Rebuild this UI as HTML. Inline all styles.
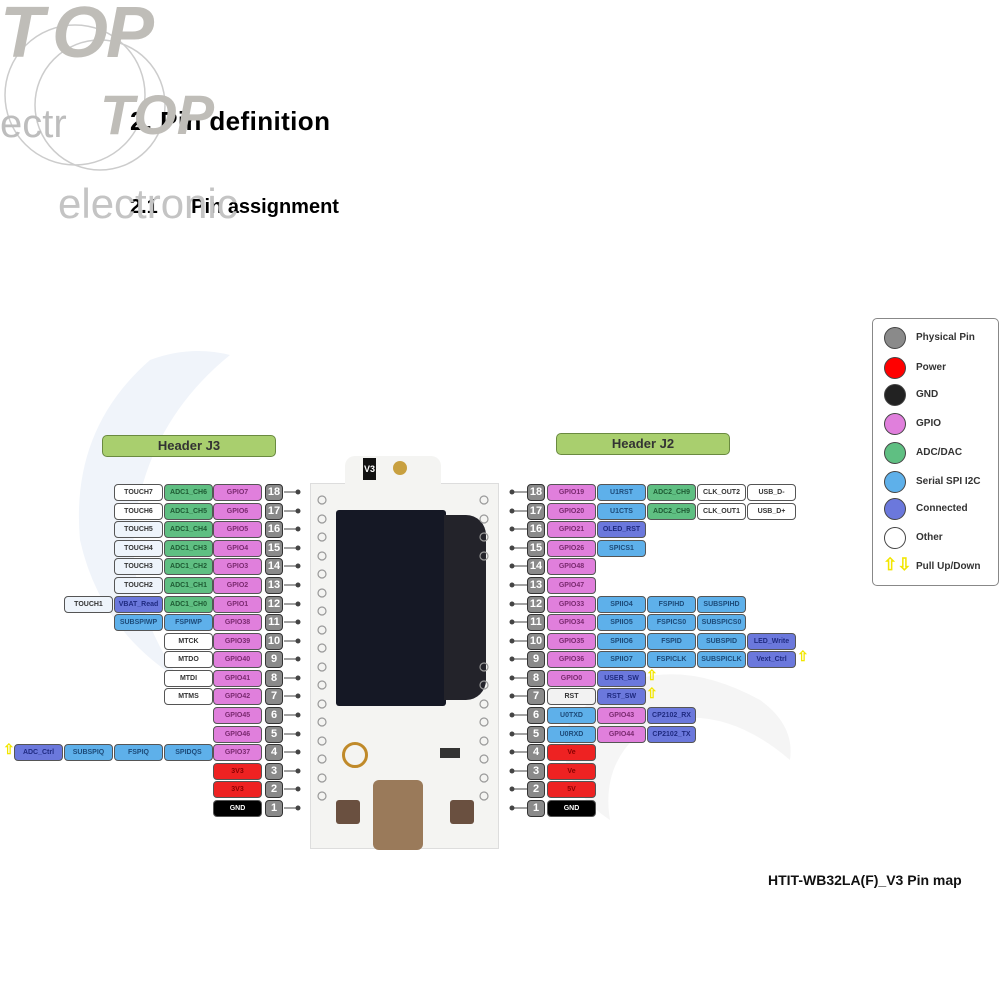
<!DOCTYPE html>
<html><head><meta charset="utf-8"><style>
body{margin:0;width:1000px;height:1000px;background:#fff;position:relative;overflow:hidden;font-family:"Liberation Sans",sans-serif}
.a{position:absolute}
.b{position:absolute;height:15px;width:47px;border-radius:4px;border:1px solid #555;font-weight:bold;font-size:7px;text-align:center;line-height:15px;color:#333;box-sizing:content-box;white-space:nowrap;overflow:hidden}
.n{position:absolute;width:16px;height:15px;border-radius:4px;border:1px solid #333;background:#8a8a8a;color:#fff;font-weight:bold;font-size:11px;text-align:center;line-height:15px}
.g{background:#e07fdc;color:#7a2a70}.d{background:#5fbf82;color:#1e5a33}.s{background:#5eb0ea;color:#1d4a78}.c{background:#6b78dc;color:#1f2a80}
.w{background:#fff}.lw{background:#eef4fb}.r{background:#ee2222;color:#800}.k{background:#000;color:#fff}.rs{background:#f2f2f2}
.lg{position:absolute;width:20px;height:20px;border-radius:50%;border:1.5px solid #444;left:884px}
.lt{position:absolute;left:916px;font-size:10px;font-weight:bold;color:#333}
.up{position:absolute;color:#f2e600;font-size:14px;font-weight:bold}
</style></head><body>
<svg class="a" style="left:0;top:0" width="1000" height="1000">
<path d="M150 360 Q190 345 230 355 Q150 420 135 520 Q125 600 180 680 Q100 630 80 540 Q70 430 150 360Z" fill="#f0f4fa"/>
<path d="M570 720 Q650 640 760 700 Q795 725 790 760 Q720 700 650 725 Q600 760 610 820 Q550 780 570 720Z" fill="#f5f5f5"/>
<circle cx="75" cy="95" r="70" fill="none" stroke="#ccc" stroke-width="1.5"/>
<circle cx="100" cy="105" r="65" fill="none" stroke="#ccc" stroke-width="1.5"/>
</svg>
<div class="a" style="left:0;top:-8px;font-size:72px;font-weight:bold;font-style:italic;color:#bfbdb8;letter-spacing:-2px">T<span style="margin-left:10px">OP</span></div>
<div class="a" style="left:130px;top:106px;font-size:26px;font-weight:bold;color:#000;letter-spacing:0.4px">2. Pin definition</div>
<div class="a" style="left:0;top:102px;font-size:40px;color:#bdbdbd">ectr</div>
<div class="a" style="left:100px;top:82px;font-size:56px;font-weight:bold;font-style:italic;color:#bfbdb8">TOP</div>
<div class="a" style="left:130px;top:196px;font-size:20px;font-weight:bold;color:#000">2.1&nbsp;&nbsp;&nbsp;&nbsp;&nbsp;&nbsp;Pin assignment</div>
<div class="a" style="left:58px;top:180px;font-size:42px;color:#c4c4c4">electronic</div>

<div class="a" style="left:102px;top:435px;width:172px;height:20px;background:#a9cf6e;border:1px solid #6a8a40;border-radius:5px;text-align:center;font-weight:bold;font-size:13px;line-height:20px;color:#333">Header J3</div>
<div class="a" style="left:556px;top:433px;width:172px;height:20px;background:#a9cf6e;border:1px solid #6a8a40;border-radius:5px;text-align:center;font-weight:bold;font-size:13px;line-height:20px;color:#333">Header J2</div>

<div class="a" style="left:310px;top:483px;width:187px;height:364px;background:#f4f4f2;border:1px solid #ddd"></div>
<div class="a" style="left:345px;top:456px;width:96px;height:30px;background:#f4f4f2;border-radius:10px 10px 0 0"></div>
<div class="a" style="left:363px;top:458px;width:13px;height:22px;background:#111;color:#fff;font-size:9px;font-weight:bold;text-align:center;line-height:22px">V3</div>
<div class="a" style="left:393px;top:461px;width:14px;height:14px;border-radius:50%;background:#c8a040"></div>
<div class="a" style="left:336px;top:510px;width:110px;height:196px;background:#151825;border-radius:3px"></div>
<div class="a" style="left:444px;top:515px;width:42px;height:185px;background:#23232a;border-radius:0 20px 20px 0"></div>
<div class="a" style="left:342px;top:742px;width:20px;height:20px;border-radius:50%;border:3px solid #c08a2a"></div>
<div class="a" style="left:373px;top:780px;width:50px;height:70px;background:#9a7a5a;border-radius:6px"></div>
<div class="a" style="left:336px;top:800px;width:24px;height:24px;background:#6a5040;border-radius:3px"></div>
<div class="a" style="left:450px;top:800px;width:24px;height:24px;background:#6a5040;border-radius:3px"></div>
<div class="a" style="left:440px;top:748px;width:20px;height:10px;background:#333"></div>

<div class="b w" style="left:114px;top:484px">TOUCH7</div><div class="b d" style="left:164px;top:484px">ADC1_CH6</div><div class="b g" style="left:213px;top:484px">GPIO7</div><div class="n" style="left:265px;top:484px">18</div>
<div class="b w" style="left:114px;top:503px">TOUCH6</div><div class="b d" style="left:164px;top:503px">ADC1_CH5</div><div class="b g" style="left:213px;top:503px">GPIO6</div><div class="n" style="left:265px;top:503px">17</div>
<div class="b lw" style="left:114px;top:521px">TOUCH5</div><div class="b d" style="left:164px;top:521px">ADC1_CH4</div><div class="b g" style="left:213px;top:521px">GPIO5</div><div class="n" style="left:265px;top:521px">16</div>
<div class="b lw" style="left:114px;top:540px">TOUCH4</div><div class="b d" style="left:164px;top:540px">ADC1_CH3</div><div class="b g" style="left:213px;top:540px">GPIO4</div><div class="n" style="left:265px;top:540px">15</div>
<div class="b lw" style="left:114px;top:558px">TOUCH3</div><div class="b d" style="left:164px;top:558px">ADC1_CH2</div><div class="b g" style="left:213px;top:558px">GPIO3</div><div class="n" style="left:265px;top:558px">14</div>
<div class="b lw" style="left:114px;top:577px">TOUCH2</div><div class="b d" style="left:164px;top:577px">ADC1_CH1</div><div class="b g" style="left:213px;top:577px">GPIO2</div><div class="n" style="left:265px;top:577px">13</div>
<div class="b lw" style="left:64px;top:596px">TOUCH1</div><div class="b c" style="left:114px;top:596px">VBAT_Read</div><div class="b d" style="left:164px;top:596px">ADC1_CH0</div><div class="b g" style="left:213px;top:596px">GPIO1</div><div class="n" style="left:265px;top:596px">12</div>
<div class="b s" style="left:114px;top:614px">SUBSPIWP</div><div class="b s" style="left:164px;top:614px">FSPIWP</div><div class="b g" style="left:213px;top:614px">GPIO38</div><div class="n" style="left:265px;top:614px">11</div>
<div class="b w" style="left:164px;top:633px">MTCK</div><div class="b g" style="left:213px;top:633px">GPIO39</div><div class="n" style="left:265px;top:633px">10</div>
<div class="b w" style="left:164px;top:651px">MTDO</div><div class="b g" style="left:213px;top:651px">GPIO40</div><div class="n" style="left:265px;top:651px">9</div>
<div class="b w" style="left:164px;top:670px">MTDI</div><div class="b g" style="left:213px;top:670px">GPIO41</div><div class="n" style="left:265px;top:670px">8</div>
<div class="b w" style="left:164px;top:688px">MTMS</div><div class="b g" style="left:213px;top:688px">GPIO42</div><div class="n" style="left:265px;top:688px">7</div>
<div class="b g" style="left:213px;top:707px">GPIO45</div><div class="n" style="left:265px;top:707px">6</div>
<div class="b g" style="left:213px;top:726px">GPIO46</div><div class="n" style="left:265px;top:726px">5</div>
<div class="up" style="left:3px;top:741px">⇧</div><div class="b c" style="left:14px;top:744px">ADC_Ctrl</div><div class="b s" style="left:64px;top:744px">SUBSPIQ</div><div class="b s" style="left:114px;top:744px">FSPIQ</div><div class="b s" style="left:164px;top:744px">SPIDQS</div><div class="b g" style="left:213px;top:744px">GPIO37</div><div class="n" style="left:265px;top:744px">4</div>
<div class="b r" style="left:213px;top:763px">3V3</div><div class="n" style="left:265px;top:763px">3</div>
<div class="b r" style="left:213px;top:781px">3V3</div><div class="n" style="left:265px;top:781px">2</div>
<div class="b k" style="left:213px;top:800px">GND</div><div class="n" style="left:265px;top:800px">1</div>

<div class="n" style="left:527px;top:484px">18</div><div class="b g" style="left:547px;top:484px">GPIO19</div><div class="b s" style="left:597px;top:484px">U1RST</div><div class="b d" style="left:647px;top:484px">ADC2_CH9</div><div class="b w" style="left:697px;top:484px">CLK_OUT2</div><div class="b w" style="left:747px;top:484px">USB_D-</div>
<div class="n" style="left:527px;top:503px">17</div><div class="b g" style="left:547px;top:503px">GPIO20</div><div class="b s" style="left:597px;top:503px">U1CTS</div><div class="b d" style="left:647px;top:503px">ADC2_CH9</div><div class="b w" style="left:697px;top:503px">CLK_OUT1</div><div class="b w" style="left:747px;top:503px">USB_D+</div>
<div class="n" style="left:527px;top:521px">16</div><div class="b g" style="left:547px;top:521px">GPIO21</div><div class="b c" style="left:597px;top:521px">OLED_RST</div>
<div class="n" style="left:527px;top:540px">15</div><div class="b g" style="left:547px;top:540px">GPIO26</div><div class="b s" style="left:597px;top:540px">SPICS1</div>
<div class="n" style="left:527px;top:558px">14</div><div class="b g" style="left:547px;top:558px">GPIO48</div>
<div class="n" style="left:527px;top:577px">13</div><div class="b g" style="left:547px;top:577px">GPIO47</div>
<div class="n" style="left:527px;top:596px">12</div><div class="b g" style="left:547px;top:596px">GPIO33</div><div class="b s" style="left:597px;top:596px">SPIIO4</div><div class="b s" style="left:647px;top:596px">FSPIHD</div><div class="b s" style="left:697px;top:596px">SUBSPIHD</div>
<div class="n" style="left:527px;top:614px">11</div><div class="b g" style="left:547px;top:614px">GPIO34</div><div class="b s" style="left:597px;top:614px">SPIIO5</div><div class="b s" style="left:647px;top:614px">FSPICS0</div><div class="b s" style="left:697px;top:614px">SUBSPICS0</div>
<div class="n" style="left:527px;top:633px">10</div><div class="b g" style="left:547px;top:633px">GPIO35</div><div class="b s" style="left:597px;top:633px">SPIIO6</div><div class="b s" style="left:647px;top:633px">FSPID</div><div class="b s" style="left:697px;top:633px">SUBSPID</div><div class="b c" style="left:747px;top:633px">LED_Write</div>
<div class="n" style="left:527px;top:651px">9</div><div class="b g" style="left:547px;top:651px">GPIO36</div><div class="b s" style="left:597px;top:651px">SPIIO7</div><div class="b s" style="left:647px;top:651px">FSPICLK</div><div class="b s" style="left:697px;top:651px">SUBSPICLK</div><div class="b c" style="left:747px;top:651px">Vext_Ctrl</div><div class="up" style="left:797px;top:648px">⇧</div>
<div class="n" style="left:527px;top:670px">8</div><div class="b g" style="left:547px;top:670px">GPIO0</div><div class="b c" style="left:597px;top:670px">USER_SW</div><div class="up" style="left:646px;top:667px">⇧</div>
<div class="n" style="left:527px;top:688px">7</div><div class="b rs" style="left:547px;top:688px">RST</div><div class="b c" style="left:597px;top:688px">RST_SW</div><div class="up" style="left:646px;top:685px">⇧</div>
<div class="n" style="left:527px;top:707px">6</div><div class="b s" style="left:547px;top:707px">U0TXD</div><div class="b g" style="left:597px;top:707px">GPIO43</div><div class="b c" style="left:647px;top:707px">CP2102_RX</div>
<div class="n" style="left:527px;top:726px">5</div><div class="b s" style="left:547px;top:726px">U0RXD</div><div class="b g" style="left:597px;top:726px">GPIO44</div><div class="b c" style="left:647px;top:726px">CP2102_TX</div>
<div class="n" style="left:527px;top:744px">4</div><div class="b r" style="left:547px;top:744px">Ve</div>
<div class="n" style="left:527px;top:763px">3</div><div class="b r" style="left:547px;top:763px">Ve</div>
<div class="n" style="left:527px;top:781px">2</div><div class="b r" style="left:547px;top:781px">5V</div>
<div class="n" style="left:527px;top:800px">1</div><div class="b k" style="left:547px;top:800px">GND</div>

<svg class="a" style="left:0;top:0" width="1000" height="1000">
<g stroke="#444" stroke-width="1" fill="#444">
<path d="M284 492H298M284 511H298M284 529H298M284 548H298M284 566H298M284 585H298M284 604H298M284 622H298M284 641H298M284 659H298M284 678H298M284 696H298M284 715H298M284 734H298M284 752H298M284 771H298M284 789H298M284 808H298"/>
<path d="M512 492H527M512 511H527M512 529H527M512 548H527M512 566H527M512 585H527M512 604H527M512 622H527M512 641H527M512 659H527M512 678H527M512 696H527M512 715H527M512 734H527M512 752H527M512 771H527M512 789H527M512 808H527"/>
<g stroke="none">
<circle cx="298" cy="492" r="2.5"/><circle cx="298" cy="511" r="2.5"/><circle cx="298" cy="529" r="2.5"/><circle cx="298" cy="548" r="2.5"/><circle cx="298" cy="566" r="2.5"/><circle cx="298" cy="585" r="2.5"/><circle cx="298" cy="604" r="2.5"/><circle cx="298" cy="622" r="2.5"/><circle cx="298" cy="641" r="2.5"/><circle cx="298" cy="659" r="2.5"/><circle cx="298" cy="678" r="2.5"/><circle cx="298" cy="696" r="2.5"/><circle cx="298" cy="715" r="2.5"/><circle cx="298" cy="734" r="2.5"/><circle cx="298" cy="752" r="2.5"/><circle cx="298" cy="771" r="2.5"/><circle cx="298" cy="789" r="2.5"/><circle cx="298" cy="808" r="2.5"/>
<circle cx="512" cy="492" r="2.5"/><circle cx="512" cy="511" r="2.5"/><circle cx="512" cy="529" r="2.5"/><circle cx="512" cy="548" r="2.5"/><circle cx="512" cy="566" r="2.5"/><circle cx="512" cy="585" r="2.5"/><circle cx="512" cy="604" r="2.5"/><circle cx="512" cy="622" r="2.5"/><circle cx="512" cy="641" r="2.5"/><circle cx="512" cy="659" r="2.5"/><circle cx="512" cy="678" r="2.5"/><circle cx="512" cy="696" r="2.5"/><circle cx="512" cy="715" r="2.5"/><circle cx="512" cy="734" r="2.5"/><circle cx="512" cy="752" r="2.5"/><circle cx="512" cy="771" r="2.5"/><circle cx="512" cy="789" r="2.5"/><circle cx="512" cy="808" r="2.5"/>
</g></g>
<g fill="none" stroke="#999" stroke-width="1.2">
<circle cx="322" cy="500" r="4"/><circle cx="322" cy="519" r="4"/><circle cx="322" cy="537" r="4"/><circle cx="322" cy="556" r="4"/><circle cx="322" cy="574" r="4"/><circle cx="322" cy="593" r="4"/><circle cx="322" cy="611" r="4"/><circle cx="322" cy="630" r="4"/><circle cx="322" cy="648" r="4"/><circle cx="322" cy="667" r="4"/><circle cx="322" cy="685" r="4"/><circle cx="322" cy="704" r="4"/><circle cx="322" cy="722" r="4"/><circle cx="322" cy="741" r="4"/><circle cx="322" cy="759" r="4"/><circle cx="322" cy="778" r="4"/><circle cx="322" cy="796" r="4"/>
<circle cx="484" cy="500" r="4"/><circle cx="484" cy="519" r="4"/><circle cx="484" cy="537" r="4"/><circle cx="484" cy="556" r="4"/><circle cx="484" cy="667" r="4"/><circle cx="484" cy="685" r="4"/><circle cx="484" cy="704" r="4"/><circle cx="484" cy="722" r="4"/><circle cx="484" cy="741" r="4"/><circle cx="484" cy="759" r="4"/><circle cx="484" cy="778" r="4"/><circle cx="484" cy="796" r="4"/>
</g>
</svg>

<div class="a" style="left:872px;top:318px;width:125px;height:266px;border:1.5px solid #888;border-radius:5px"></div>
<div class="lg" style="top:327px;background:#8a8a8a"></div><div class="lt" style="top:332px">Physical Pin</div>
<div class="lg" style="top:357px;background:#f00"></div><div class="lt" style="top:362px">Power</div>
<div class="lg" style="top:384px;background:#222"></div><div class="lt" style="top:389px">GND</div>
<div class="lg" style="top:413px;background:#e07fdc"></div><div class="lt" style="top:418px">GPIO</div>
<div class="lg" style="top:442px;background:#5fbf82"></div><div class="lt" style="top:447px">ADC/DAC</div>
<div class="lg" style="top:471px;background:#5eb0ea"></div><div class="lt" style="top:476px">Serial SPI I2C</div>
<div class="lg" style="top:498px;background:#6b78dc"></div><div class="lt" style="top:503px">Connected</div>
<div class="lg" style="top:527px;background:#fff"></div><div class="lt" style="top:532px">Other</div>
<div class="up" style="left:883px;top:555px;font-size:17px">⇧⇩</div><div class="lt" style="top:561px">Pull Up/Down</div>

<div class="a" style="left:768px;top:872px;font-size:14px;font-weight:bold;color:#111">HTIT-WB32LA(F)_V3 Pin map</div>
</body></html>
